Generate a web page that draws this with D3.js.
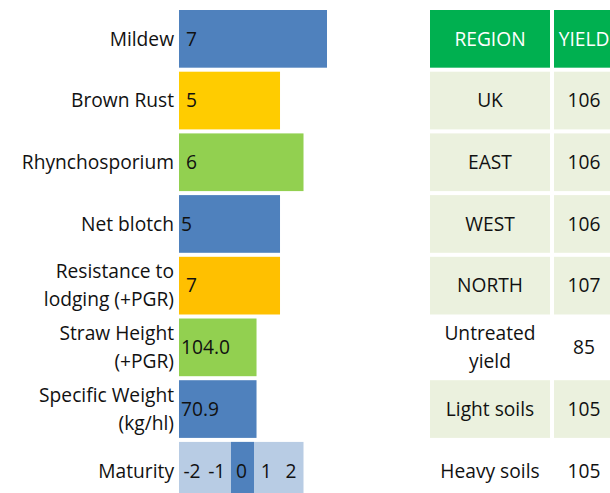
<!DOCTYPE html>
<html>
<head>
<meta charset="utf-8">
<script src="https://cdn.jsdelivr.net/npm/d3@7"></script>
<style>
  html, body { margin: 0; padding: 0; background: #fff; }
  svg text { font-family: "Open Sans", "Liberation Sans", sans-serif; white-space: pre; }
</style>
</head>
<body>
<div id="chart"></div>
<script>
// ---- data ----
const traits = ["Mildew", "Brown Rust", "Rhynchosporium", "Net blotch",
                "Resistance to\nlodging (+PGR)", "Straw Height\n(+PGR)",
                "Specific Weight\n(kg/hl)", "Maturity"];
const barScores = [7, 5, 6, 5, 5, 4, 4, 6];           // drawn bar length (score scale)
const valueLabels = [" 7", " 5", " 6", "5", " 7", "104.0", "70.9", null];
const barColors = ["#4F81BD", "#FFCC00", "#92D050", "#4F81BD", "#FFC000", "#92D050", "#4F81BD", "#B8CCE4"];
const maturitySteps = [-2, -1, 0, 1, 2];
const maturityValue = 0;

const tableHeader = ["REGION", "YIELD"];
const regions = ["UK", "EAST", "WEST", "NORTH", "Untreated\nyield", "Light soils", "Heavy soils"];
const yields = [106, 106, 106, 107, 85, 105, 105];
const shaded = [true, true, true, true, false, true, false];

// ---- layout ----
const W = 610, H = 493;
const svg = d3.select("#chart").append("svg").attr("width", W).attr("height", H);
const FS = 19.2, LH = 28, CAP = 6.8;

const rowKeys = d3.range(8);
const y = d3.scaleBand().domain(rowKeys).range([10, 499.6]).paddingInner(0.065).paddingOuter(0);
const x = d3.scaleLinear().domain([0.7, 7]).range([179, 327]);

function multiLine(sel, str, cx, cy, anchor) {
  const lines = str.split("\n");
  const t = sel.append("text").attr("text-anchor", anchor).attr("font-size", FS).attr("fill", "#111");
  const start = cy + CAP - (lines.length - 1) * LH / 2;
  lines.forEach((l, i) => t.append("tspan").attr("x", cx).attr("y", start + i * LH).text(l));
  return t;
}

// category labels
const g = svg.append("g");
traits.forEach((t, i) => {
  multiLine(g, t, 174, y(i) + y.bandwidth() / 2, "end");
});

// bars
g.selectAll("rect.bar").data(barScores).enter().append("rect")
  .attr("class", "bar")
  .attr("x", x(0.7))
  .attr("y", (d, i) => y(i))
  .attr("width", d => x(d) - x(0.7))
  .attr("height", y.bandwidth())
  .attr("fill", (d, i) => barColors[i]);

// value labels
valueLabels.forEach((v, i) => {
  if (v === null) return;
  g.append("text").attr("x", 181).attr("y", y(i) + y.bandwidth() / 2 + CAP)
    .attr("font-size", FS).attr("fill", "#111").text(v);
});

// maturity scale
const mi = 7;
const mx = d3.scaleLinear().domain([-2, 2]).range([192, 291]);
g.append("rect").attr("x", mx(maturityValue) - 11.5 + 1).attr("y", y(mi))
  .attr("width", 23).attr("height", y.bandwidth()).attr("fill", "#4F81BD");
g.selectAll("text.mat").data(maturitySteps).enter().append("text")
  .attr("class", "mat")
  .attr("x", d => mx(d)).attr("y", y(mi) + y.bandwidth() / 2 + CAP)
  .attr("text-anchor", "middle").attr("font-size", FS).attr("fill", "#111")
  .text(d => d);

// table
const cols = d3.scaleOrdinal().domain([0, 1]).range([430, 554]);
const colW = [120, 60];
const tg = svg.append("g");
tableHeader.forEach((h, c) => {
  tg.append("rect").attr("x", cols(c)).attr("y", y(0)).attr("width", colW[c]).attr("height", y.bandwidth()).attr("fill", "#00B050");
  tg.append("text").attr("x", cols(c) + colW[c] / 2).attr("y", y(0) + y.bandwidth() / 2 + CAP)
    .attr("text-anchor", "middle").attr("font-size", FS).attr("fill", "#fff").text(h);
});
regions.forEach((r, i) => {
  const ri = i + 1;
  if (shaded[i]) {
    [0, 1].forEach(c => tg.append("rect").attr("x", cols(c)).attr("y", y(ri))
      .attr("width", colW[c]).attr("height", y.bandwidth()).attr("fill", "#EBF1DE"));
  }
  multiLine(tg, r, cols(0) + colW[0] / 2, y(ri) + y.bandwidth() / 2, "middle");
  multiLine(tg, String(yields[i]), cols(1) + colW[1] / 2, y(ri) + y.bandwidth() / 2, "middle");
});
</script>
</body>
</html>
